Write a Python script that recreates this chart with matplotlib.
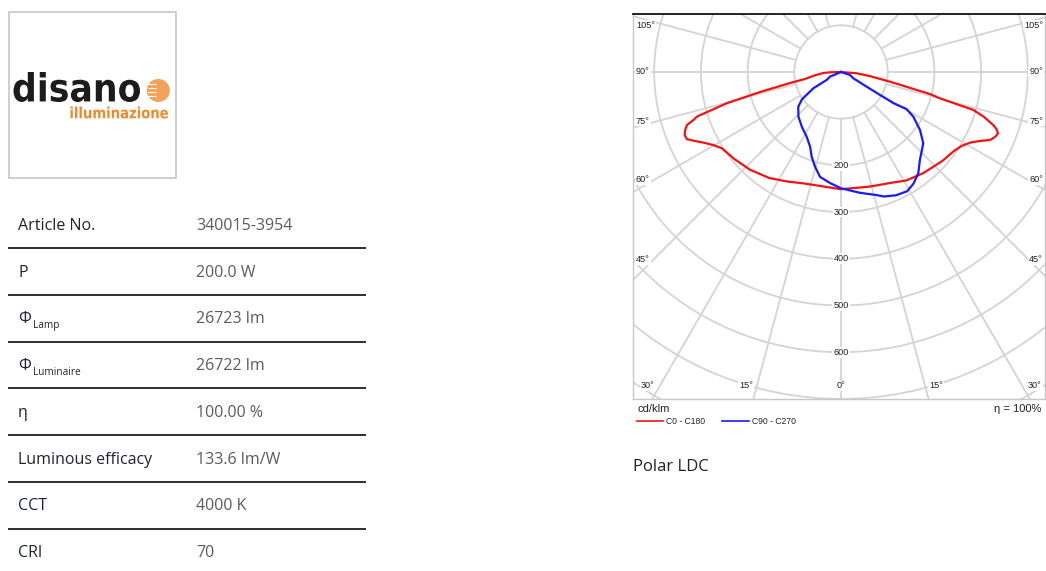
import numpy as np
import matplotlib.pyplot as plt
from matplotlib.textpath import TextPath
from matplotlib.font_manager import FontProperties
from matplotlib.patches import PathPatch, Circle, Rectangle
from matplotlib.transforms import Affine2D

# product data table
row_labels = ["Article No.", "P", "Φ", "Φ", "η", "Luminous efficacy", "CCT", "CRI"]
row_subs = ["", "", "Lamp", "Luminaire", "", "", "", ""]
row_values = ["340015-3954", "200.0 W", "26723 lm", "26722 lm", "100.00 %",
              "133.6 lm/W", "4000 K", "70"]

# polar LDC: gamma (deg from nadir) and intensity (cd/klm), in drawing order
gamma_c0 = [0, 14, 24, 31, 39, 44, 49, 55, 58.5, 61.3, 63.6, 65.5, 67.2, 68.6, 69.8, 70.8, 72.5, 74, 75.1, 76.1, 78.8, 82, 85.3, 90]
i_c0 = [251, 253, 260, 271, 279, 283, 289, 295, 303, 315, 332, 351, 358, 361, 355, 345, 322, 295, 219, 196, 107, 62, 34, 0]

gamma_c180 = [0, 19, 26, 34, 43, 51, 57.4, 60.2, 62.8, 65.1, 66.5, 68, 69.6, 71, 72, 72.8, 74.7, 76.1, 77.8, 79, 83, 86.8, 88.4, 90]
i_c180 = [251, 252, 261, 274, 286, 295, 303, 315, 331, 349, 360, 361, 356, 349, 332, 323, 254, 179, 112, 79, 55, 38, 24, 0]

gamma_c90 = [0, 9, 16, 19, 24, 29, 33, 37.3, 41.9, 49.1, 53.7, 58.3, 60.5, 59.3, 59.5, 60.2, 62.9, 71.6, 90]
i_c90 = [249, 262, 274, 282, 289, 292, 285, 273, 253, 233, 210, 182, 161, 131, 97, 63, 30, 20, 0]

gamma_c270 = [0, 5.6, 11.3, 15.4, 19.1, 22.5, 27.9, 35.7, 43.7, 50.9, 55, 59.5, 61, 67, 90]
i_c270 = [249, 239, 229, 210, 192, 173, 157, 144, 132, 118, 102, 69, 35, 26, 0]

ring_values = [100, 200, 300, 400, 500, 600, 700, 800, 900]
ring_labels = [200, 300, 400, 500, 600]

W, H = 1046, 571
fig = plt.figure(figsize=(W / 100, H / 100), dpi=100)

# page layer in pixel units (y down)
bg = fig.add_axes([0, 0, 1, 1])
bg.set_xlim(0, W)
bg.set_ylim(H, 0)
bg.axis("off")


def fit_text(ax, s, x0, y0, x1, y1, color, family="DejaVu Sans", weight="bold"):
    tp = TextPath((0, 0), s, size=10, prop=FontProperties(family=family, weight=weight))
    ext = tp.get_extents()
    tr = (Affine2D().translate(-ext.x0, -ext.y1)
          .scale((x1 - x0) / ext.width, -(y1 - y0) / ext.height)
          .translate(x0, y0))
    ax.add_patch(PathPatch(tr.transform_path(tp), fc=color, ec="none"))


# logo
bg.add_patch(Rectangle((8.5, 12), 167.5, 166, fill=False, ec="#c6c6c6", lw=1.2))
fit_text(bg, "disano", 13.5, 72, 140, 102, "#1c1c1c")
fit_text(bg, "illuminazione", 70.5, 106.5, 168, 118.5, "#ef8a2a")
bg.add_patch(Circle((158.3, 90.5), 11.5, fc="#f3a25a", ec="none"))
for yy in [84, 88, 92, 96]:
    bg.plot([148, 156], [yy, yy], color="white", lw=0.8, solid_capstyle="butt")

# table
ofont = "Open Sans"
for i, (lab, sub, val) in enumerate(zip(row_labels, row_subs, row_values)):
    yc = 226 + 46.7 * i
    bg.text(18, yc, lab, fontsize=11.5, family=ofont, color="#1f2430", va="center", ha="left")
    if sub:
        bg.text(33.5, yc + 8.5, sub, fontsize=7.3, family=ofont, color="#1f2430",
                va="baseline", ha="left")
    bg.text(196, yc, val, fontsize=11.5, family=ofont, color="#5c5c5c", va="center", ha="left")
    if i < len(row_labels) - 1:
        bg.plot([8, 366], [yc + 22.3, yc + 22.3], color="#2e2e2e", lw=1.4, solid_capstyle="butt")

bg.text(633, 467, "Polar LDC", fontsize=12, family=ofont, color="#222222", va="center", ha="left")

# polar diagram frame: centre at (841, 72) px, 46.7 px per 100 cd/klm
cx, cy = 841, 72
s = 100 / 46.7
x_l, x_r, y_t, y_b = 633, 1045, 14, 399
ax = fig.add_axes([x_l / W, 1 - y_b / H, (x_r - x_l) / W, (y_b - y_t) / H])
ax.set_xlim((x_l - cx) * s, (x_r - cx) * s)
ax.set_ylim(-(y_b - cy) * s, (cy - y_t) * s)
ax.set_xticks([])
ax.set_yticks([])
for side in ["left", "right", "bottom"]:
    ax.spines[side].set_color("#c8c8c8")
    ax.spines[side].set_linewidth(1.0)
ax.spines["top"].set_color("#111111")
ax.spines["top"].set_linewidth(1.3)

grid_c = "#d4d4d4"
for r in ring_values:
    ax.add_patch(Circle((0, 0), r, fill=False, ec=grid_c, lw=1.3, zorder=1))
for a in range(-165, 166, 15):
    t = np.radians(a)
    ax.plot([100 * np.sin(t), 1200 * np.sin(t)], [-100 * np.cos(t), -1200 * np.cos(t)],
            color=grid_c, lw=1.3, zorder=1)


def to_xy(g_right, v_right, g_left, v_left):
    gl = np.radians(np.array(g_left[::-1]))
    vl = np.array(v_left[::-1], dtype=float)
    gr = np.radians(np.array(g_right))
    vr = np.array(v_right, dtype=float)
    x = np.concatenate([-vl * np.sin(gl), vr * np.sin(gr)])
    y = np.concatenate([-vl * np.cos(gl), -vr * np.cos(gr)])
    return x, y


xr, yr = to_xy(gamma_c0, i_c0, gamma_c180, i_c180)
xb, yb = to_xy(gamma_c90, i_c90, gamma_c270, i_c270)
ax.plot(xr, yr, color="#f01414", lw=1.6, zorder=3, solid_joinstyle="round")
ax.plot(xb, yb, color="#1a1aff", lw=1.6, zorder=3, solid_joinstyle="round")

lab_font = dict(family="Liberation Sans", fontsize=6.6, color="#222222")
box = dict(fc="white", ec="none", pad=0.6)
for r in ring_labels:
    ax.text(0, -r, str(r), ha="center", va="center", bbox=box, zorder=4, **lab_font)


def px(x, y):
    return (x - cx) * s, (cy - y) * s


for lab, yy in [("105°", 25), ("90°", 72), ("75°", 121), ("60°", 180), ("45°", 260)]:
    ax.text(*px(636, yy), lab, ha="left", va="center", bbox=box, zorder=4, **lab_font)
    ax.text(*px(1043, yy), lab, ha="right", va="center", bbox=box, zorder=4, **lab_font)
for lab, xx in [("30°", 648), ("15°", 746), ("0°", 841), ("15°", 936), ("30°", 1035)]:
    ax.text(*px(xx, 386), lab, ha="center", va="center", bbox=box, zorder=4, **lab_font)

# captions and legend below the frame
bg.text(638, 409, "cd/klm", family="Liberation Sans", fontsize=8, color="#222222", va="center")
bg.text(1041, 409, "η = 100%", family="Liberation Sans", fontsize=8, color="#222222",
        va="center", ha="right")
bg.plot([637, 663], [421, 421], color="#f01414", lw=1.2)
bg.text(666, 421.5, "C0 - C180", family="Liberation Sans", fontsize=6.2, color="#222222", va="center")
bg.plot([722, 749], [421, 421], color="#1a1aff", lw=1.2)
bg.text(752, 421.5, "C90 - C270", family="Liberation Sans", fontsize=6.2, color="#222222", va="center")

fig.savefig("out.png", dpi=100)
